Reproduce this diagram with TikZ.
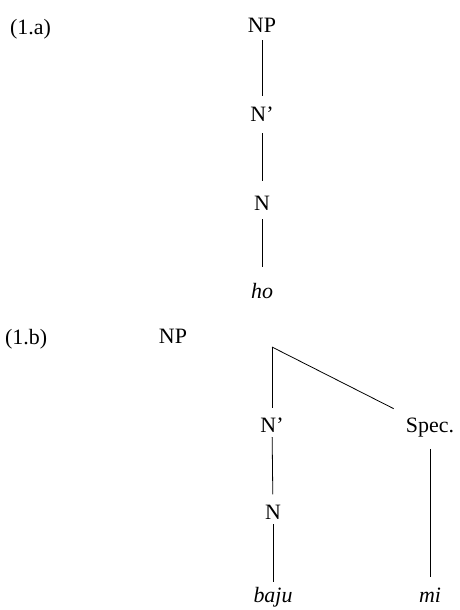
\documentclass[tikz,border=0pt]{standalone}
\usepackage{fontspec}
\setmainfont{Liberation Serif}
\usepackage{tikz}
\usepackage{xcolor}

\begin{document}
\begin{tikzpicture}[
    x=1bp, y=-1bp,
    cat/.style={
        anchor=base,
        inner sep=0pt,
        font=\fontsize{22}{26}\selectfont,
    },
    word/.style={
        cat,
        font=\fontsize{22}{26}\selectfont\itshape,
    },
    branch/.style={
        line width=0.9bp,
    },
]
\useasboundingbox (0, 0) rectangle (460, 610);

% (1.a)
\node[cat, anchor=base west] (Ta) at (10, 35) {(1.a)};
\node[cat] (NPa) at (262, 33) {NP};
\node[cat] (Nbara) at (262, 122) {N’};
\node[cat] (Na) at (262, 210) {N};
\node[word] (hoa) at (262, 298) {ho};

\draw[branch, shorten <=7bp, shorten >=11bp] (NPa) -- (Nbara);
\draw[branch, shorten <=11bp, shorten >=14bp] (Nbara) -- (Na);
\draw[branch, shorten <=9bp, shorten >=16bp] (Na) -- (hoa);

% (1.b)
\node[cat, anchor=base west] (Tb) at (5, 344) {(1.b)};
\node[cat] (NPb) at (173, 343) {NP};
\coordinate (Topb) at (272, 347);
\node[cat] (Nbarb) at (272, 432) {N’};
\node[cat] (Specb) at (430, 432) {Spec.};
\node[cat] (Nb) at (273, 519) {N};
\node[word] (bajub) at (273, 602) {baju};
\node[word] (mib) at (430, 602) {mi};

\draw[branch, line width=0.8bp, shorten >=9bp] (Topb) -- (Nbarb);
\draw[branch, line width=0.8bp, shorten >=19bp] (Topb) -- (Specb);
\draw[branch, line width=0.8bp, shorten <=5bp, shorten >=10bp] (Nbarb) -- (Nb);
\draw[branch, line width=0.8bp, shorten <=5bp, shorten >=5bp] (Nb) -- (bajub);
\draw[branch, line width=0.8bp, shorten <=12bp, shorten >=10bp] (Specb) -- (mib);

\end{tikzpicture}
\end{document}
